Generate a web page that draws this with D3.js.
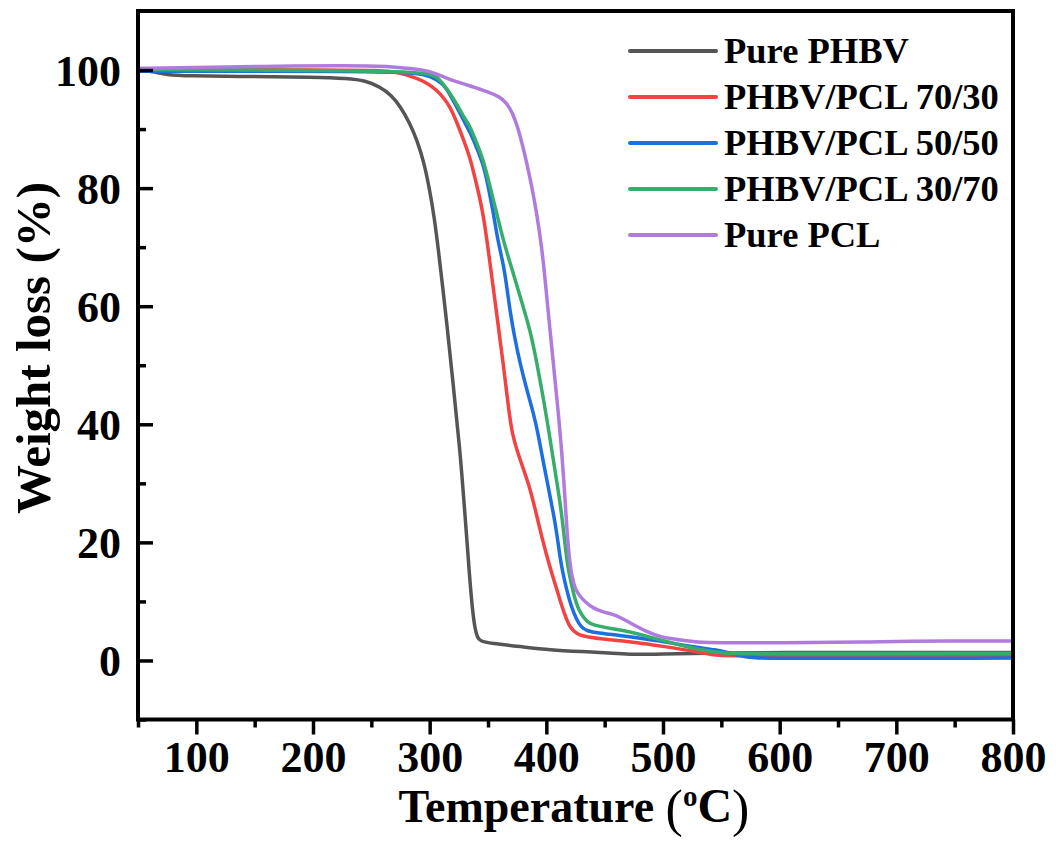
<!DOCTYPE html>
<html>
<head>
<meta charset="utf-8">
<script src="https://cdn.jsdelivr.net/npm/d3@7"></script>
<style>
  body { margin: 0; background: #fff; }
  svg { display: block; font-family: "Liberation Serif", "Times New Roman", serif; font-weight: bold; }
</style>
</head>
<body>
<svg id="chart" width="1056" height="843"></svg>
<script>
// series data: [temperature (°C), weight (%)]
var purePHBV = [[50,100.2],[55,100.1],[62,99.7],[75,99.2],[90,99.0],[150,98.9],[200,98.8],[230,98.6],[245,98.2],[257,97.2],[267,95.8],[275,93.8],[283,91],[289,88.2],[295,84.5],[300,79.7],[304,75],[307.5,69.5],[311,63.5],[314.5,57.5],[320,47],[326,35.7],[330.4,24.4],[334.6,13.1],[337,8],[339,5.2],[341,3.9],[343,3.3],[351.7,2.9],[380,2.3],[403,1.8],[430,1.5],[460,1.2],[472,1.0],[500,1.1],[530,1.25],[600,1.35],[700,1.35],[800,1.35]];

var blend7030 = [[50,100.1],[200,100.0],[260,100.0],[275,99.5],[289,98.6],[298,97.8],[306,96.6],[312,95.3],[317.4,93.8],[323,91.3],[329,88.2],[334.6,85.2],[340,80.8],[346,75.8],[351.7,67.3],[357.4,58.8],[363,50.4],[368,42],[371,38.2],[375,35.5],[380,32.6],[386,29.2],[391.7,24.6],[396,21],[400,18],[404,15.2],[408.6,12.3],[412,10],[415.7,7.8],[419,6.1],[423,5],[428,4.3],[434.6,4.0],[450,3.6],[471.7,3.2],[489,2.7],[500,2.4],[529,1.5],[546,0.8],[560,0.8],[600,0.9],[800,0.9]];

var blend5050 = [[50,99.8],[250,99.8],[290,99.5],[300,99.0],[311.4,97.8],[317,96],[323,93.8],[329,91.5],[334.6,89.5],[340,87],[346,84],[350,80.5],[354.6,75.8],[358.5,71],[363,67.3],[366,63.5],[369,59],[373,54.5],[377.4,50.4],[383,46],[389,41.9],[393,38.3],[397.4,33.6],[402,29],[406,25],[409,21.5],[411.7,17.5],[414,15],[417,12.3],[421,9.3],[426,6.9],[430,5.6],[434.6,5.0],[445,4.6],[457.4,4.4],[486,3.6],[500,3.2],[517,2.6],[530,2.2],[545,1.8],[555,1.4],[565,0.8],[578,0.4],[600,0.35],[800,0.4]];

var blend3070 = [[50,100.1],[250,99.9],[290,99.6],[300,99.3],[306,98.9],[311,97.8],[317.4,96.1],[323,94.3],[329,92.1],[334.6,90.5],[340,87.8],[346,84.8],[351.7,80.3],[357.4,75.8],[363,71.2],[369,67.3],[374.6,63.6],[380,60],[386,56],[391,51.3],[395,47],[398.5,43.2],[402,39],[406,34],[410,29],[413,25],[416,19.8],[418,16.2],[421.4,13],[425,10],[429,8.0],[435,6.5],[440,6.0],[455,5.4],[471.7,4.9],[489,3.9],[500,3.4],[515,2.6],[529,1.9],[545,1.4],[560,1.1],[580,1.2],[800,1.2]];

var purePCL = [[50,100.3],[100,100.4],[150,100.6],[232,100.8],[266,100.6],[280,100.3],[294.6,100],[305,99.4],[311.4,98.9],[320,98.2],[331.6,97.5],[346,96.6],[360.3,95.5],[366,94.4],[371,92.8],[375.5,90.3],[380,87],[384,83.6],[388,79.8],[391.7,75.8],[396,70.1],[399,64.5],[401.7,58.8],[404.6,53.2],[407.4,47.5],[410.3,41.9],[413,36],[415.5,29],[417.5,22.5],[419.5,17.5],[422,14],[425,12],[429,10.8],[434,9.8],[440,8.9],[447,8.3],[457.4,7.8],[463,7.3],[469,6.7],[477,5.8],[486,4.9],[495,4.2],[503,3.8],[517,3.4],[529,3.1],[546,3.0],[600,3.0],[680,3.1],[700,3.3],[800,3.3]];

var seriesNames = ["Pure PHBV", "PHBV/PCL 70/30", "PHBV/PCL 50/50", "PHBV/PCL 30/70", "Pure PCL"];
var seriesData = [purePHBV, blend7030, blend5050, blend3070, purePCL];
var seriesColors = ["#555555", "#f24242", "#1b6fe0", "#37ad6b", "#b07ade"];

var xMajor = [100, 200, 300, 400, 500, 600, 700, 800];
var xMinor = [50, 150, 250, 350, 450, 550, 650, 750];
var yMajor = [0, 20, 40, 60, 80, 100];
var yMinor = [-10, 10, 30, 50, 70, 90];

var svg = d3.select("#chart");
var pLeft = 138, pRight = 1013, pTop = 11, pBottom = 719.5;

var x = d3.scaleLinear().domain([50, 800]).range([pLeft, pRight]);
var y = d3.scaleLinear().domain([-10, 110]).range([pBottom, pTop]);

// curves
var line = d3.line()
    .x(function (d) { return x(d[0]); })
    .y(function (d) { return y(d[1]); })
    .curve(d3.curveBasis);

svg.append("g").selectAll("path")
    .data(seriesData)
    .enter().append("path")
    .attr("d", line)
    .attr("fill", "none")
    .attr("stroke", function (d, i) { return seriesColors[i]; })
    .attr("stroke-width", 3.5)
    .attr("stroke-linejoin", "round");

// axes
var xAxis = svg.append("g").attr("transform", "translate(0," + pBottom + ")")
    .call(d3.axisBottom(x).tickValues(xMajor).tickSize(15).tickPadding(8).tickFormat(d3.format("d")));
svg.append("g").attr("transform", "translate(0," + pBottom + ")")
    .call(d3.axisBottom(x).tickValues(xMinor).tickSize(8).tickFormat(""));

var yAxis = svg.append("g").attr("transform", "translate(" + pLeft + ",0)")
    .call(d3.axisLeft(y).tickValues(yMajor).tickSize(-15).tickPadding(17).tickFormat(d3.format("d")));
svg.append("g").attr("transform", "translate(" + pLeft + ",0)")
    .call(d3.axisLeft(y).tickValues(yMinor).tickSize(-8).tickFormat(""));

svg.selectAll(".domain").remove();
svg.selectAll(".tick line").attr("stroke", "#000").attr("stroke-width", 3.5);
svg.selectAll(".tick text").attr("fill", "#000").style("font-size", "44px")
    .style("font-family", "'Liberation Serif', serif").style("font-weight", "bold");
xAxis.selectAll(".tick text").attr("dy", "0.68em");
yAxis.selectAll(".tick text").attr("dy", "0.34em");

// frame
svg.append("rect")
    .attr("x", pLeft).attr("y", pTop)
    .attr("width", pRight - pLeft).attr("height", pBottom - pTop)
    .attr("fill", "none").attr("stroke", "#000").attr("stroke-width", 4);

// axis titles
var xt = svg.append("text")
    .attr("x", 574).attr("y", 822)
    .attr("text-anchor", "middle")
    .style("font-size", "46px");
xt.append("tspan").text("Temperature ");
xt.append("tspan").style("font-size", "52px").style("font-weight", "normal").attr("dy", 4).text("(");
xt.append("tspan").style("font-size", "29px").attr("dy", -20).text("o");
xt.append("tspan").style("font-size", "48px").attr("dy", 16).text("C");
xt.append("tspan").style("font-size", "52px").style("font-weight", "normal").attr("dy", 4).text(")");

svg.append("text")
    .attr("transform", "translate(50,348) rotate(-90)")
    .attr("text-anchor", "middle")
    .style("font-size", "49px")
    .text("Weight loss (%)");

// legend
var legend = svg.append("g").selectAll("g")
    .data(seriesNames)
    .enter().append("g")
    .attr("transform", function (d, i) { return "translate(630," + (51 + i * 46) + ")"; });

legend.append("line")
    .attr("x1", 0).attr("x2", 86)
    .attr("stroke", function (d, i) { return seriesColors[i]; })
    .attr("stroke-width", 4)
    .attr("stroke-linecap", "round");

legend.append("text")
    .attr("x", 94).attr("dy", "0.34em")
    .style("font-size", "36.5px")
    .text(function (d) { return d; });
</script>
</body>
</html>
